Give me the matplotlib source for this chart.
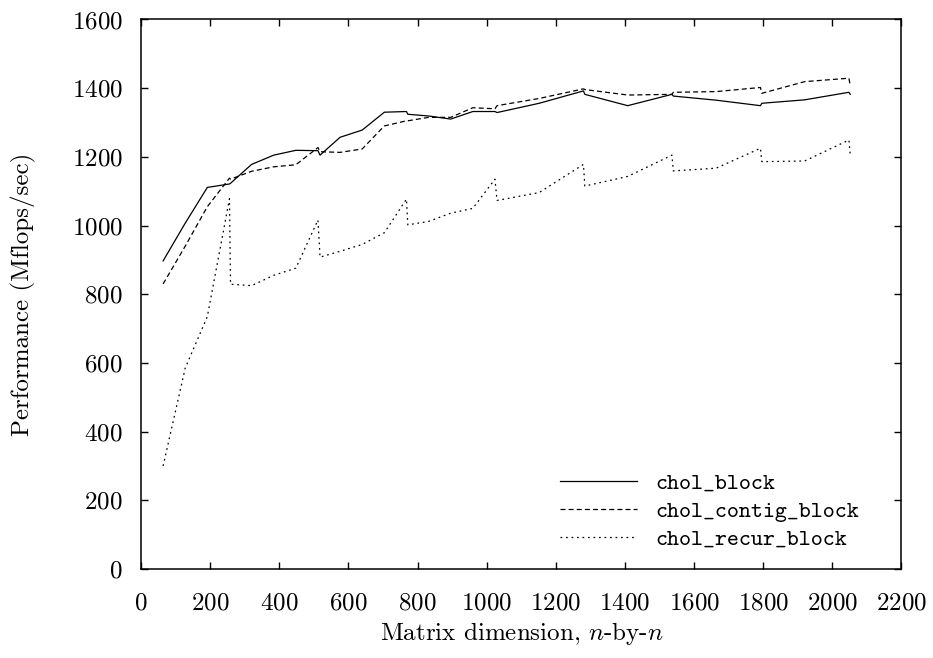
import matplotlib
matplotlib.use("Agg")
import matplotlib.pyplot as plt
from matplotlib.font_manager import FontProperties

# ===== data =====
sizes = [64, 128, 192, 256, 259, 320, 384, 448, 512, 518, 576, 640, 704,
         768, 772, 832, 896, 960, 1024, 1030, 1152, 1280, 1284, 1408,
         1536, 1540, 1664, 1792, 1796, 1920, 2048, 2052]

chol_block = [897, 1007, 1111, 1121, 1123, 1178, 1205, 1219, 1218, 1205,
              1257, 1278, 1330, 1332, 1324, 1319, 1310, 1332, 1332, 1329,
              1356, 1392, 1382, 1349, 1382, 1377, 1365, 1349, 1356, 1366,
              1388, 1382]

chol_contig_block = [830, 940, 1055, 1138, 1135, 1158, 1171, 1177, 1227,
                     1215, 1213, 1223, 1290, 1305, 1305, 1315, 1315, 1343,
                     1340, 1349, 1370, 1398, 1396, 1380, 1382, 1388, 1390,
                     1402, 1385, 1419, 1429, 1406]

chol_recur_block = [300, 585, 735, 1078, 829, 825, 855, 876, 1016, 908,
                    925, 945, 979, 1077, 1002, 1012, 1036, 1050, 1135, 1073,
                    1096, 1178, 1115, 1143, 1205, 1159, 1167, 1225, 1186,
                    1188, 1249, 1203]

labels = ["chol_block", "chol_contig_block", "chol_recur_block"]

plt.rcParams["font.family"] = "cmr10"
plt.rcParams["mathtext.fontset"] = "cm"
plt.rcParams["axes.unicode_minus"] = False
plt.rcParams["axes.formatter.use_mathtext"] = True

fig = plt.figure(figsize=(9.33, 6.58), dpi=100)
ax = fig.add_axes([0.1511, 0.1353, 0.8151, 0.8351])

ax.plot(sizes, chol_block, color="black", lw=0.9, label=labels[0])
ax.plot(sizes, chol_contig_block, color="black", lw=0.9, dashes=(4, 2.5),
        label=labels[1])
ax.plot(sizes, chol_recur_block, color="black", lw=0.9, dashes=(1.4, 3),
        label=labels[2])

ax.set_xlim(0, 2200)
ax.set_ylim(0, 1600)
ax.set_xticks(range(0, 2201, 200))
ax.set_yticks(range(0, 1601, 200))
ax.tick_params(direction="in", length=5, width=1, labelsize=18,
               top=True, right=True)
ax.tick_params(axis="y", pad=13)
ax.tick_params(axis="x", pad=17)
for s in ax.spines.values():
    s.set_linewidth(1.1)

ax.set_xlabel("Matrix dimension, $n$-by-$n$", fontsize=18)
ax.set_ylabel("Performance (Mflops/sec)", fontsize=18)
ax.yaxis.set_label_coords(-0.138, 0.5)
ax.xaxis.set_label_coords(0.5, -0.093)

leg = ax.legend(loc="lower right", bbox_to_anchor=(0.972, -0.003), frameon=False,
                prop=FontProperties(family="cmtt10", size=16.5),
                handlelength=3.4, handletextpad=0.8, labelspacing=0.3)

plt.savefig("out.png", dpi=100)
